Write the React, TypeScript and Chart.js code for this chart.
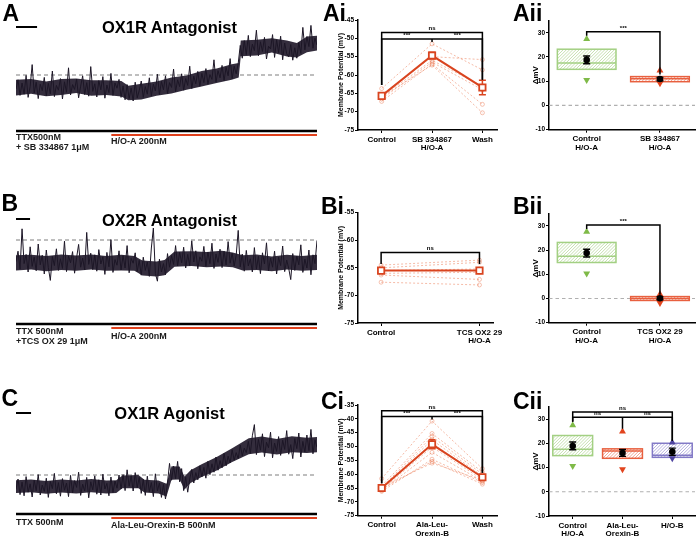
import React, { useEffect, useRef } from "react";
import { Chart, registerables } from "chart.js";
Chart.register(...registerables);

const FONT = "'Liberation Sans', Arial, Helvetica, sans-serif";
Chart.defaults.font.family = FONT;

// ---------------- Traces (membrane potential, mV) ----------------
const TRACE_DURATION = 300; // time units across each trace
const DRUG_ONSET = 95;
const BASELINE_A = -65;
const BASELINE_B = -62.5;
const BASELINE_C = -65;
const SCALEBAR_A = 21;
const SCALEBAR_B = 14;
const SCALEBAR_C = 15;

const traceA = [
  -68.5, -66.2, -70.1, -67.0, -69.8, -65.1, -70.6, -67.9, -62.4, -69.5,
  -66.8, -70.9, -67.3, -68.9, -65.6, -70.2, -67.1, -69.7, -64.0, -70.4,
  -67.6, -68.8, -65.9, -71.0, -66.7, -69.3, -63.2, -70.0, -67.4, -68.6,
  -66.0, -70.7, -67.8, -65.2, -69.9, -66.9, -70.3, -62.9, -69.1, -67.2,
  -70.5, -66.4, -68.7, -65.4, -70.8, -67.5, -69.4, -64.6, -70.1, -67.0,
  -68.3, -66.1, -70.6, -67.7,
  -71.2, -67.4, -70.9, -68.3, -71.5, -66.8, -70.7, -68.9,
  -66.5, -70.6, -67.9, -69.8, -65.7, -70.2, -67.3, -69.0, -64.8, -69.9,
  -66.6, -68.7, -65.2, -69.6, -66.9, -68.1, -63.5, -69.2, -66.2, -67.9,
  -64.7, -68.8, -65.9, -67.6, -62.8, -68.4, -65.3, -67.2, -64.1,
  -67.8, -64.6, -66.9, -63.4, -67.3, -64.9, -66.1, -61.2, -66.8, -63.9,
  -65.7, -62.6, -66.4, -63.1, -65.2, -60.9, -65.9, -62.8, -64.7, -62.1,
  -57.6, -60.8, -56.4, -59.9, -55.1, -60.4, -57.3, -58.9, -53.8, -60.2,
  -56.7, -59.1, -55.6, -61.0, -57.8, -58.5, -54.9, -60.6, -56.2, -59.4,
  -55.3, -61.2, -57.0, -59.7,
  -60.5, -57.4, -61.3, -58.2, -60.8, -56.9, -59.6, -53.1, -58.7, -55.4,
  -57.9, -52.6, -58.3, -55.8, -57.5,
];
// dense core of each trace (upper / lower edge), read at the listed times
const envA_t = [0, 15, 30, 45, 60, 75, 90, 105, 112, 125, 140, 155, 170, 185, 200, 215, 222, 224, 240, 255, 270, 280, 290, 300];
const envA_hi = [-66.2, -66.0, -66.6, -66.0, -65.9, -66.3, -66.3, -66.5, -67.7, -67.2, -66.6, -65.6, -65.1, -64.0, -63.4, -62.3, -62.0, -56.4, -56.2, -55.8, -56.4, -57.0, -55.4, -55.2];
const envA_lo = [-70.1, -69.7, -70.3, -70.0, -69.5, -70.2, -70.0, -70.4, -71.3, -71.1, -70.2, -69.6, -68.7, -67.9, -67.0, -66.2, -65.6, -60.3, -60.1, -59.4, -60.4, -60.6, -59.3, -58.9];

const traceB = [
  -67.9, -65.3, -69.8, -59.7, -68.4, -66.1, -70.5, -64.2, -69.1, -66.8,
  -70.2, -63.5, -68.7, -66.3, -71.0, -65.0, -69.4, -72.6, -66.6, -68.9,
  -64.7, -70.1, -67.2, -69.6, -62.8, -70.4, -66.5, -68.2, -65.4, -70.8,
  -66.9, -63.6, -69.3, -67.0, -70.0, -60.6, -68.6, -65.8, -69.9, -66.2,
  -70.3, -64.9, -68.5, -66.7, -71.1, -65.6, -69.2, -62.4, -70.6, -67.4,
  -68.8, -65.2, -70.0, -66.4, -69.5, -63.9, -70.7, -67.1, -68.3, -65.7,
  -70.4, -67.6, -71.3, -66.8, -70.1, -68.0, -71.6, -64.5, -59.5, -70.9,
  -72.8, -67.3, -70.5, -68.4, -71.2,
  -65.9, -69.3, -66.4, -68.6, -63.9, -69.0, -65.6, -68.2, -64.3, -69.5,
  -66.1, -68.9, -62.7, -68.0, -65.2, -69.7, -66.7, -67.8, -64.1, -69.1,
  -65.5, -68.4, -63.3, -69.6, -66.0, -68.1, -64.8, -69.4, -65.3, -68.7,
  -62.9, -68.3, -65.8, -69.0, -66.3,
  -60.1, -69.2, -66.0, -70.3, -65.1, -69.0, -67.2, -70.5, -64.4, -69.8,
  -66.6, -70.9, -65.7, -68.5, -63.2, -70.2, -67.0, -69.3, -65.3, -71.0,
  -66.8, -68.9, -64.0, -70.4, -67.5, -69.6, -72.4, -65.9, -70.1, -66.5,
  -68.7, -63.7, -70.6, -67.3, -69.5, -65.0, -71.2, -66.2, -68.4, -62.6,
];
const envB_t = [0, 15, 30, 45, 60, 75, 90, 105, 118, 126, 140, 148, 158, 175, 190, 205, 216, 226, 240, 255, 270, 285, 300];
const envB_hi = [-66.3, -66.2, -66.5, -66.1, -66.4, -66.1, -66.5, -66.2, -66.5, -67.6, -67.9, -67.5, -65.4, -65.3, -65.5, -65.2, -65.6, -66.3, -66.1, -66.6, -66.2, -66.5, -66.2];
const envB_lo = [-70.1, -69.9, -70.3, -70.0, -70.2, -69.9, -70.2, -70.1, -70.2, -71.4, -71.6, -71.3, -69.2, -69.0, -69.3, -69.1, -69.3, -70.1, -70.0, -70.3, -69.9, -70.2, -70.0];

const traceC = [
  -68.6, -66.0, -69.9, -66.8, -70.2, -65.4, -69.3, -67.2, -70.5, -66.3,
  -68.9, -64.9, -70.0, -67.5, -69.1, -65.8, -70.6, -66.6, -68.4, -64.6,
  -69.7, -66.9, -70.3, -65.9, -68.8, -67.0, -70.4, -65.1, -69.5, -66.4,
  -68.1, -64.3, -70.1, -67.3, -69.0, -65.6, -70.7, -66.7, -68.7, -65.2,
  -69.8, -66.2, -70.0, -64.8, -68.5, -67.1, -70.2, -65.5, -69.4, -66.5,
  -68.3, -65.0,
  -68.5, -64.9, -68.9, -63.7, -67.8, -65.2, -69.0, -64.4, -68.2, -65.6,
  -69.6, -66.1, -70.1, -65.3, -69.2, -66.9, -70.4, -64.7, -69.0,
  -67.0, -70.6, -67.4, -71.0, -66.9,
  -62.1, -66.3, -62.8, -65.9, -61.6, -66.7, -63.4,
  -68.9, -65.6, -69.3, -66.0,
  -63.6, -67.0, -64.4, -66.2, -62.7, -65.5, -63.1, -65.8, -61.6, -64.9,
  -62.2, -64.3, -60.5, -63.8, -61.4, -63.2, -59.6, -62.7, -60.3, -62.0,
  -58.7, -61.3, -59.4, -60.9, -57.5, -60.2, -58.3, -59.4, -56.6,
  -59.6, -55.2, -52.4, -59.9, -56.1, -58.8, -54.7, -60.4, -56.8, -58.2,
  -54.3, -60.7, -57.0, -59.1, -55.4, -60.1, -56.3, -58.6, -53.9, -59.8,
  -57.4, -60.9, -55.9, -58.4, -54.5, -60.5, -56.6, -59.3, -55.0, -58.9,
  -53.6, -59.7, -56.2, -58.1,
];
const envC_t = [0, 15, 30, 45, 60, 75, 90, 100, 106, 122, 128, 142, 150, 155, 163, 168, 174, 185, 200, 215, 232, 245, 260, 275, 290, 300];
const envC_hi = [-66.3, -66.1, -66.5, -66.1, -66.4, -66.0, -66.4, -66.3, -65.1, -65.0, -66.2, -66.4, -67.2, -62.8, -62.9, -65.4, -63.8, -62.3, -60.5, -58.4, -55.8, -55.4, -56.0, -55.3, -55.7, -55.5];
const envC_lo = [-69.5, -69.3, -69.7, -69.4, -69.6, -69.3, -69.6, -69.5, -68.3, -68.3, -69.4, -69.6, -70.4, -66.2, -66.1, -68.6, -67.0, -65.5, -63.9, -61.8, -59.8, -59.4, -59.9, -59.3, -59.5, -59.3];

// ---------------- Ai ----------------
const aiLabels = [["Control"], ["SB 334867", "H/O-A"], ["Wash"]];
const aiX = [0, 1, 2];
const aiControl = [-63.7, -65.5, -66.0, -66.5, -67.2, -66.0];
const aiDrug = [-51.5, -55.0, -56.0, -56.5, -57.0, -57.3];
const aiWash = [-58.6, -55.8, -63.0, -64.0, -68.0, -70.3];
const aiMean = [-65.7, -54.7, -63.4];
const aiSem = [0.5, 0.9, 2.0];
const aiTicks = [-45, -50, -55, -60, -65, -70, -75];

// ---------------- Bi ----------------
const biLabels = [["Control"], ["TCS OX2 29", "H/O-A"]];
const biX = [0, 2];
const biControl = [-64.5, -65.0, -65.5, -66.0, -66.3, -67.6];
const biDrug = [-63.6, -64.0, -65.2, -65.8, -67.1, -68.1];
const biMean = [-65.5, -65.5];
const biSem = [0.4, 0.5];
const biTicks = [-55, -60, -65, -70, -75];

// ---------------- Ci ----------------
const ciLabels = [["Control"], ["Ala-Leu-", "Orexin-B"], ["Wash"]];
const ciX = [0, 1, 2];
const ciControl = [-61.6, -64.2, -64.8, -65.0, -65.3, -65.6, -65.9, -66.2, -65.4, -64.6];
const ciDrug = [-40.8, -45.3, -46.4, -47.6, -48.8, -50.2, -52.1, -54.6, -55.4, -56.0];
const ciWash = [-58.0, -59.2, -60.0, -60.7, -61.3, -61.9, -62.5, -63.0, -63.6, -62.2];
const ciMean = [-65.0, -49.2, -61.1];
const ciSem = [0.4, 1.6, 0.6];
const ciTicks = [-35, -40, -45, -50, -55, -60, -65, -70, -75];

// ---------------- Aii / Bii / Cii (ΔmV) ----------------
const dTicks = [-10, 0, 10, 20, 30];
const aiiLabels = [["Control", "H/O-A"], ["SB 334867", "H/O-A"]];
const aiiQ1 = [14.9, 9.8];
const aiiMed = [17.5, 11.0];
const aiiQ3 = [23.2, 11.9];
const aiiMax = [27.4, 14.4];
const aiiMin = [10.5, 9.2];
const aiiMean = [18.8, 10.9];
const aiiSem = [1.6, 0.7];

const biiLabels = [["Control", "H/O-A"], ["TCS OX2 29", "H/O-A"]];
const biiQ1 = [14.9, -0.8];
const biiMed = [17.5, 0.0];
const biiQ3 = [23.2, 0.8];
const biiMax = [27.6, 1.8];
const biiMin = [10.4, -1.9];
const biiMean = [18.8, 0.1];
const biiSem = [1.6, 0.6];

const ciiLabels = [["Control", "H/O-A"], ["Ala-Leu-", "Orexin-B"], ["H/O-B"]];
const ciiQ1 = [14.9, 13.8, 14.2];
const ciiMed = [17.5, 16.8, 15.1];
const ciiQ3 = [23.2, 17.7, 20.0];
const ciiMax = [27.4, 24.9, 20.3];
const ciiMin = [10.6, 9.3, 13.8];
const ciiMean = [18.9, 16.0, 16.5];
const ciiSem = [1.6, 1.4, 1.5];

// ---------------- colours ----------------
const RED = "#d9441f";
const LIGHT = "rgba(236,128,92,0.6)";
const GREEN = { tri: "#7fba48", box: "#a3d083", hatch: "rgba(150,200,110,0.6)" };
const ORANGE = { tri: "#e2441e", box: "#e8603f", hatch: "rgba(232,100,70,0.65)" };
const BLUE = { tri: "#4e43a0", box: "#8279c6", hatch: "rgba(120,110,195,0.6)" };

// ---------------- plugins ----------------
function tracePlugin(baseline: number, scaleBar: number, barY: number, scaleY: number) {
  return {
    id: "traceDecor",
    beforeDatasetsDraw(chart: any) {
      const { ctx, chartArea, scales } = chart;
      const y = scales.y.getPixelForValue(baseline);
      ctx.save();
      ctx.strokeStyle = "#a9a9a9";
      ctx.lineWidth = 1.3;
      ctx.setLineDash([4, 3]);
      ctx.beginPath();
      ctx.moveTo(chartArea.left, y);
      ctx.lineTo(chartArea.right, y);
      ctx.stroke();
      ctx.restore();
    },
    afterDraw(chart: any) {
      const { ctx, scales } = chart;
      const x = scales.x;
      ctx.save();
      ctx.lineCap = "butt";
      ctx.strokeStyle = "#000";
      ctx.lineWidth = 2;
      ctx.beginPath();
      ctx.moveTo(x.getPixelForValue(0), scaleY);
      ctx.lineTo(x.getPixelForValue(scaleBar), scaleY);
      ctx.stroke();
      ctx.lineWidth = 2.6;
      ctx.beginPath();
      ctx.moveTo(x.getPixelForValue(0), barY);
      ctx.lineTo(x.getPixelForValue(TRACE_DURATION), barY);
      ctx.stroke();
      ctx.strokeStyle = "#e0401c";
      ctx.lineWidth = 2.2;
      ctx.beginPath();
      ctx.moveTo(x.getPixelForValue(DRUG_ONSET), barY + 4);
      ctx.lineTo(x.getPixelForValue(TRACE_DURATION), barY + 4);
      ctx.stroke();
      ctx.restore();
    },
  };
}

function errorBarPlugin(xs: number[], means: number[], sems: number[], color: string, cap: number, lw: number) {
  return {
    id: "errbars",
    beforeDatasetDraw(chart: any, args: any) {
      if (args.index !== 0) return;
      const { ctx, scales } = chart;
      ctx.save();
      ctx.strokeStyle = color;
      ctx.lineWidth = lw;
      xs.forEach((xv, i) => {
        const px = scales.x.getPixelForValue(xv);
        const t = scales.y.getPixelForValue(means[i] + sems[i]);
        const b = scales.y.getPixelForValue(means[i] - sems[i]);
        ctx.beginPath();
        ctx.moveTo(px, t);
        ctx.lineTo(px, b);
        ctx.moveTo(px - cap, t);
        ctx.lineTo(px + cap, t);
        ctx.moveTo(px - cap, b);
        ctx.lineTo(px + cap, b);
        ctx.stroke();
      });
      ctx.restore();
    },
  };
}

type Bracket = { x0: number; x1: number; y: number; d0: number; d1: number; mid?: [number, number]; labels: [number, string][] };

function bracketPlugin(brackets: Bracket[]) {
  return {
    id: "brackets",
    afterDatasetsDraw(chart: any) {
      const { ctx, scales } = chart;
      const X = (v: number) => scales.x.getPixelForValue(v);
      const Y = (v: number) => scales.y.getPixelForValue(v);
      ctx.save();
      ctx.strokeStyle = "#000";
      ctx.fillStyle = "#000";
      ctx.lineWidth = 1.5;
      ctx.font = `bold 6px ${FONT}`;
      ctx.textAlign = "center";
      ctx.textBaseline = "alphabetic";
      brackets.forEach((b) => {
        ctx.beginPath();
        ctx.moveTo(X(b.x0), Y(b.d0));
        ctx.lineTo(X(b.x0), Y(b.y));
        ctx.lineTo(X(b.x1), Y(b.y));
        ctx.lineTo(X(b.x1), Y(b.d1));
        if (b.mid) {
          ctx.moveTo(X(b.mid[0]), Y(b.y));
          ctx.lineTo(X(b.mid[0]), Y(b.mid[1]));
        }
        ctx.stroke();
        b.labels.forEach(([lx, t]) => ctx.fillText(t, X(lx), Y(b.y) - 2));
      });
      ctx.restore();
    },
  };
}

type Box = { x: number; q1: number; med: number; q3: number; stroke: string; hatch: string };

function boxPlugin(boxes: Box[], half: number) {
  return {
    id: "boxes",
    beforeDatasetsDraw(chart: any) {
      const { ctx, scales, chartArea } = chart;
      const X = (v: number) => scales.x.getPixelForValue(v);
      const Y = (v: number) => scales.y.getPixelForValue(v);
      ctx.save();
      ctx.strokeStyle = "#b0b0b0";
      ctx.lineWidth = 1.2;
      ctx.setLineDash([3.5, 3]);
      ctx.beginPath();
      ctx.moveTo(chartArea.left, Y(0));
      ctx.lineTo(chartArea.right, Y(0));
      ctx.stroke();
      ctx.setLineDash([]);
      boxes.forEach((b) => {
        const l = X(b.x - half);
        const r = X(b.x + half);
        const t = Y(b.q3);
        const bt = Y(b.q1);
        ctx.save();
        ctx.beginPath();
        ctx.rect(l, t, r - l, bt - t);
        ctx.clip();
        ctx.strokeStyle = b.hatch;
        ctx.lineWidth = 0.9;
        const h = bt - t;
        for (let k = -h; k < r - l + h; k += 3.2) {
          ctx.beginPath();
          ctx.moveTo(l + k, bt);
          ctx.lineTo(l + k + h, t);
          ctx.stroke();
        }
        ctx.restore();
        ctx.strokeStyle = b.stroke;
        ctx.lineWidth = 1.5;
        ctx.strokeRect(l, t, r - l, bt - t);
        ctx.beginPath();
        ctx.moveTo(l, Y(b.med));
        ctx.lineTo(r, Y(b.med));
        ctx.stroke();
      });
      ctx.restore();
    },
  };
}

// ---------------- config builders ----------------
function traceConfig(
  values: number[],
  envT: number[],
  envHi: number[],
  envLo: number[],
  baseline: number,
  scaleBar: number,
  padTop: number,
  padBottom: number,
  barY: number,
  scaleY: number
) {
  return {
    type: "line",
    data: {
      datasets: [
        {
          data: values.map((v, i) => ({ x: (i * TRACE_DURATION) / (values.length - 1), y: v })),
          borderColor: "#1c1626",
          borderWidth: 1.0,
          pointRadius: 0,
          tension: 0,
          fill: false,
        },
        {
          data: envT.map((t, i) => ({ x: t, y: envHi[i] })),
          borderWidth: 0,
          borderColor: "rgba(0,0,0,0)",
          backgroundColor: "#342d3d",
          pointRadius: 0,
          fill: "+1",
        },
        {
          data: envT.map((t, i) => ({ x: t, y: envLo[i] })),
          borderWidth: 0,
          borderColor: "rgba(0,0,0,0)",
          pointRadius: 0,
          fill: false,
        },
      ],
    },
    options: {
      animation: false,
      responsive: false,
      events: [],
      layout: { padding: { left: 16, right: 13, top: padTop, bottom: padBottom } },
      plugins: { legend: { display: false }, tooltip: { enabled: false } },
      scales: {
        x: { type: "linear", display: false, min: 0, max: TRACE_DURATION },
        y: { display: false, min: -80, max: -50 },
      },
    },
    plugins: [tracePlugin(baseline, scaleBar, barY, scaleY)],
  };
}

function xAxis(labels: string[][], xs: number[], min: number, max: number, h: number) {
  return {
    type: "linear",
    min,
    max,
    afterBuildTicks: (ax: any) => {
      ax.ticks = xs.map((v) => ({ value: v }));
    },
    afterFit: (ax: any) => {
      ax.height = h;
    },
    ticks: {
      callback: (_v: any, i: number) => labels[i],
      font: { size: 8, weight: "bold", lineHeight: 1.1 },
      color: "#000",
      padding: 2,
      maxRotation: 0,
      autoSkip: false,
    },
    grid: { drawOnChartArea: false, tickLength: 3, color: "#000", lineWidth: 1 },
    border: { color: "#000", width: 1.5 },
  };
}

function yAxis(ticks: number[], min: number, max: number, w: number, title: string, titleSize: number, titlePad: number) {
  return {
    min,
    max,
    afterFit: (ax: any) => {
      ax.width = w;
    },
    afterBuildTicks: (ax: any) => {
      ax.ticks = ticks.map((v) => ({ value: v }));
    },
    grid: { drawOnChartArea: false, tickLength: 3, color: "#000", lineWidth: 1 },
    border: { color: "#000", width: 1.5 },
    ticks: { font: { size: 6.5, weight: "bold" }, color: "#000", padding: 1 },
    title: {
      display: true,
      text: title,
      color: "#000",
      font: { size: titleSize, weight: "bold" },
      padding: { top: titlePad, bottom: 0 },
    },
  };
}

function memConfig(
  labels: string[][],
  xs: number[],
  cells: number[][],
  mean: number[],
  sem: number[],
  ticks: number[],
  padTop: number,
  xH: number,
  brackets: Bracket[]
) {
  const nCells = cells[0].length;
  const cellSets = [];
  for (let c = 0; c < nCells; c++) {
    cellSets.push({
      data: xs.map((x, k) => ({ x, y: cells[k][c] })),
      showLine: true,
      borderColor: LIGHT,
      borderWidth: 0.9,
      borderDash: [2, 2],
      pointStyle: "circle",
      pointRadius: 2,
      pointBackgroundColor: "rgba(255,255,255,0)",
      pointBorderColor: LIGHT,
      pointBorderWidth: 0.8,
    });
  }
  return {
    type: "scatter",
    data: {
      datasets: [
        {
          data: xs.map((x, k) => ({ x, y: mean[k] })),
          showLine: true,
          borderColor: RED,
          borderWidth: 2,
          pointStyle: "rect",
          pointRadius: 4.5,
          pointBackgroundColor: "#fff",
          pointBorderColor: RED,
          pointBorderWidth: 1.8,
        },
        ...cellSets,
      ],
    },
    options: {
      animation: false,
      responsive: false,
      events: [],
      layout: { padding: { left: 0, right: 8, top: padTop, bottom: 0 } },
      plugins: { legend: { display: false }, tooltip: { enabled: false } },
      scales: {
        x: xAxis(labels, xs, -0.47, 2.29, xH),
        y: yAxis(ticks, ticks[ticks.length - 1], ticks[0], 33, "Membrane Potential (mV)", 7, 12.3),
      },
    },
    plugins: [errorBarPlugin(xs, mean, sem, RED, 3.5, 1.5), bracketPlugin(brackets)],
  };
}

function boxConfig(
  labels: string[][],
  q1: number[],
  med: number[],
  q3: number[],
  mx: number[],
  mn: number[],
  mean: number[],
  sem: number[],
  colors: { tri: string; box: string; hatch: string }[],
  xmin: number,
  xmax: number,
  padTop: number,
  xH: number,
  brackets: Bracket[]
) {
  const xs = labels.map((_, i) => i);
  const boxes: Box[] = xs.map((x) => ({ x, q1: q1[x], med: med[x], q3: q3[x], stroke: colors[x].box, hatch: colors[x].hatch }));
  return {
    type: "scatter",
    data: {
      datasets: [
        {
          data: xs.map((x) => ({ x, y: mean[x] })),
          pointStyle: "circle",
          pointRadius: 3.3,
          pointBackgroundColor: "#000",
          pointBorderColor: "#000",
          pointBorderWidth: 0,
        },
        {
          data: xs.map((x) => ({ x, y: mx[x] })),
          pointStyle: "triangle",
          pointRadius: 4,
          pointBackgroundColor: colors.map((c) => c.tri),
          pointBorderColor: colors.map((c) => c.tri),
          pointBorderWidth: 0,
        },
        {
          data: xs.map((x) => ({ x, y: mn[x] })),
          pointStyle: "triangle",
          pointRotation: 180,
          pointRadius: 4,
          pointBackgroundColor: colors.map((c) => c.tri),
          pointBorderColor: colors.map((c) => c.tri),
          pointBorderWidth: 0,
        },
      ],
    },
    options: {
      animation: false,
      responsive: false,
      events: [],
      layout: { padding: { left: 0, right: 5, top: padTop, bottom: 0 } },
      plugins: { legend: { display: false }, tooltip: { enabled: false } },
      scales: {
        x: xAxis(labels, xs, xmin, xmax, xH),
        y: yAxis(dTicks, -10, 35, 29, "ΔmV", 8, 11.2),
      },
    },
    plugins: [boxPlugin(boxes, 0.4), errorBarPlugin(xs, mean, sem, "#000", 3.5, 1.4), bracketPlugin(brackets)],
  };
}

// ---------------- components ----------------
function ChartCanvas({ left, top, width, height, make }: any) {
  const ref = useRef<HTMLCanvasElement>(null);
  useEffect(() => {
    const chart = new Chart(ref.current as HTMLCanvasElement, make() as any);
    return () => chart.destroy();
  }, []);
  return <canvas ref={ref} width={width} height={height} style={{ position: "absolute", left, top, width, height }} />;
}

function Txt({ left, top, size, children, width, align, lh, color }: any) {
  return (
    <div
      style={{
        position: "absolute",
        left,
        top,
        width,
        textAlign: align || "left",
        fontFamily: FONT,
        fontWeight: "bold",
        fontSize: size,
        lineHeight: lh || 1,
        whiteSpace: "pre",
        color: color || "#000",
      }}
    >
      {children}
    </div>
  );
}

export default function App() {
  const aiBrackets: Bracket[] = [
    { x0: 0, x1: 2, y: -48.4, d0: -62.7, d1: -61.3, labels: [[1, "ns"]] },
    { x0: 0, x1: 2, y: -50.2, d0: -62.7, d1: -61.3, mid: [1, -51], labels: [[0.5, "***"], [1.5, "***"]] },
  ];
  const biBrackets: Bracket[] = [{ x0: 0, x1: 2, y: -62.2, d0: -64.3, d1: -64.3, labels: [[1, "ns"]] }];
  const ciBrackets: Bracket[] = [
    { x0: 0, x1: 2, y: -37.1, d0: -63.3, d1: -59.5, labels: [[1, "ns"]] },
    { x0: 0, x1: 2, y: -39.2, d0: -63.3, d1: -59.5, mid: [1, -40.2], labels: [[0.5, "***"], [1.5, "***"]] },
  ];
  const aiiBrackets: Bracket[] = [{ x0: 0, x1: 1, y: 30.4, d0: 28.8, d1: 12.8, labels: [[0.5, "***"]] }];
  const biiBrackets: Bracket[] = [{ x0: 0, x1: 1, y: 30.4, d0: 28.8, d1: 1.6, labels: [[0.5, "***"]] }];
  const ciiBrackets: Bracket[] = [
    { x0: 0, x1: 2, y: 32.9, d0: 28.9, d1: 21.0, labels: [[1, "ns"]] },
    { x0: 0, x1: 2, y: 30.7, d0: 28.9, d1: 21.0, mid: [1, 26.0], labels: [[0.5, "ns"], [1.5, "ns"]] },
  ];

  return (
    <div style={{ position: "absolute", left: 0, top: 0, width: 700, height: 538, background: "#fff", overflow: "hidden" }}>
      {/* traces */}
      <ChartCanvas left={0} top={0} width={330} height={170} make={() => traceConfig(traceA, envA_t, envA_hi, envA_lo, BASELINE_A, SCALEBAR_A, 15, 35, 131, 27)} />
      <ChartCanvas left={0} top={175} width={330} height={180} make={() => traceConfig(traceB, envB_t, envB_hi, envB_lo, BASELINE_B, SCALEBAR_B, 15, 45, 149, 44)} />
      <ChartCanvas left={0} top={350} width={330} height={188} make={() => traceConfig(traceC, envC_t, envC_hi, envC_lo, BASELINE_C, SCALEBAR_C, 65, 3, 164, 63)} />

      {/* membrane potential plots */}
      <ChartCanvas left={325} top={0} width={180} height={170} make={() => memConfig(aiLabels, aiX, [aiControl, aiDrug, aiWash], aiMean, aiSem, aiTicks, 20, 40, aiBrackets)} />
      <ChartCanvas left={325} top={175} width={180} height={180} make={() => memConfig(biLabels, biX, [biControl, biDrug], biMean, biSem, biTicks, 37.7, 32, biBrackets)} />
      <ChartCanvas left={325} top={350} width={180} height={188} make={() => memConfig(ciLabels, ciX, [ciControl, ciDrug, ciWash], ciMean, ciSem, ciTicks, 55, 22.3, ciBrackets)} />

      {/* delta plots */}
      <ChartCanvas left={520} top={0} width={180} height={170} make={() => boxConfig(aiiLabels, aiiQ1, aiiMed, aiiQ3, aiiMax, aiiMin, aiiMean, aiiSem, [GREEN, ORANGE], -0.514, 1.478, 20.6, 40.3, aiiBrackets)} />
      <ChartCanvas left={520} top={175} width={180} height={180} make={() => boxConfig(biiLabels, biiQ1, biiMed, biiQ3, biiMax, biiMin, biiMean, biiSem, [GREEN, ORANGE], -0.514, 1.478, 38.9, 32.3, biiBrackets)} />
      <ChartCanvas left={520} top={350} width={180} height={188} make={() => boxConfig(ciiLabels, ciiQ1, ciiMed, ciiQ3, ciiMax, ciiMin, ciiMean, ciiSem, [GREEN, ORANGE, BLUE], -0.476, 2.456, 56.9, 22, ciiBrackets)} />

      {/* panel letters */}
      <Txt left={2.5} top={2} size={23}>A</Txt>
      <Txt left={1.5} top={192} size={23}>B</Txt>
      <Txt left={1.5} top={387} size={23}>C</Txt>
      <Txt left={323} top={2} size={23}>Ai</Txt>
      <Txt left={513} top={2} size={23}>Aii</Txt>
      <Txt left={321} top={195} size={23}>Bi</Txt>
      <Txt left={513} top={195} size={23}>Bii</Txt>
      <Txt left={321} top={390} size={23}>Ci</Txt>
      <Txt left={513} top={390} size={23}>Cii</Txt>

      {/* trace titles */}
      <Txt left={69.5} top={18.5} width={200} align="center" size={16.5}>OX1R Antagonist</Txt>
      <Txt left={69.5} top={212.1} width={200} align="center" size={16.5}>OX2R Antagonist</Txt>
      <Txt left={69.5} top={404.5} width={200} align="center" size={16.5}>OX1R Agonist</Txt>

      {/* drug labels */}
      <Txt left={16} top={131.5} size={9} lh="10px" color="#1a1a1a">{"TTX500nM\n+ SB 334867 1μM"}</Txt>
      <Txt left={111} top={136} size={9} lh="10px" color="#1a1a1a">H/O-A 200nM</Txt>
      <Txt left={16} top={326} size={9} lh="10px" color="#1a1a1a">{"TTX 500nM\n+TCS OX 29 1μM"}</Txt>
      <Txt left={111} top={330.6} size={9} lh="10px" color="#1a1a1a">H/O-A 200nM</Txt>
      <Txt left={16} top={517.3} size={9} lh="10px" color="#1a1a1a">TTX 500nM</Txt>
      <Txt left={111} top={520} size={9} lh="10px" color="#1a1a1a">Ala-Leu-Orexin-B 500nM</Txt>
    </div>
  );
}
